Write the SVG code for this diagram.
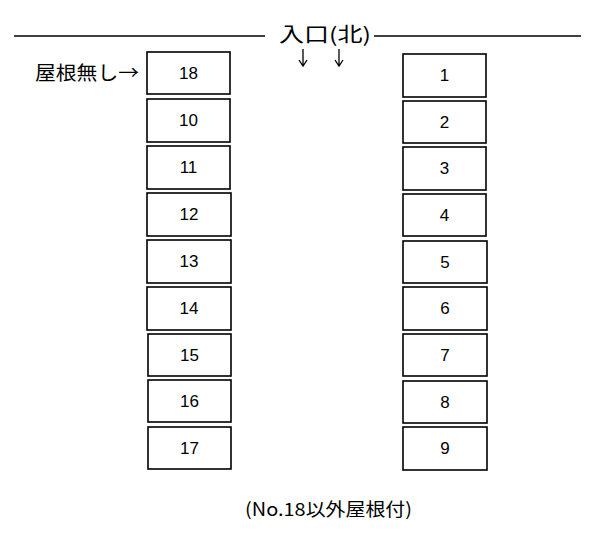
<svg xmlns="http://www.w3.org/2000/svg" width="593" height="541" viewBox="0 0 593 541">
<style>
.box{fill:#fff;stroke:#000;stroke-width:1.6}
.num{font-family:"Liberation Sans",Arial,sans-serif;font-size:17px;text-anchor:middle;fill:#000}
.jp{font-family:"Noto Sans CJK JP","Liberation Sans",sans-serif;fill:#000}
.ln{stroke:#000;stroke-width:1.6}
.arr{stroke:#000;stroke-width:1.3;fill:none}
</style>
<rect width="593" height="541" fill="#fff"/>
<g id="connectors">
<line class="ln" x1="14" y1="36" x2="265" y2="36"/>
<line class="ln" x1="374" y1="36" x2="581" y2="36"/>
<path class="arr" d="M303 49V66M299 60L303 66L307 60"/>
<path class="arr" d="M339 49V66M335 60L339 66L343 60"/>
</g>
<text class="jp" x="279" y="42" font-size="20" textLength="92" lengthAdjust="spacingAndGlyphs">入口(北)</text>
<text class="jp" x="35" y="80" font-size="19" textLength="104" lengthAdjust="spacingAndGlyphs">屋根無し→</text>
<g id="n18"><rect class="box" x="147" y="52" width="83" height="42"/><text class="num" x="188.5" y="79">18</text></g>
<g id="n10"><rect class="box" x="147" y="99" width="83" height="43"/><text class="num" x="188.5" y="126">10</text></g>
<g id="n11"><rect class="box" x="147" y="146" width="83" height="43"/><text class="num" x="188.5" y="173">11</text></g>
<g id="n12"><rect class="box" x="147" y="193" width="84" height="43"/><text class="num" x="189" y="220">12</text></g>
<g id="n13"><rect class="box" x="147" y="240" width="84" height="43"/><text class="num" x="189" y="267">13</text></g>
<g id="n14"><rect class="box" x="147" y="287" width="84" height="43"/><text class="num" x="189" y="314">14</text></g>
<g id="n15"><rect class="box" x="148" y="334" width="83" height="42"/><text class="num" x="189.5" y="361">15</text></g>
<g id="n16"><rect class="box" x="148" y="380" width="83" height="42"/><text class="num" x="189.5" y="407">16</text></g>
<g id="n17"><rect class="box" x="148" y="427" width="83" height="42"/><text class="num" x="189.5" y="454">17</text></g>
<g id="n1"><rect class="box" x="403" y="54" width="83" height="43"/><text class="num" x="444.5" y="81">1</text></g>
<g id="n2"><rect class="box" x="403" y="101" width="83" height="42"/><text class="num" x="444.5" y="128">2</text></g>
<g id="n3"><rect class="box" x="403" y="147" width="83" height="43"/><text class="num" x="444.5" y="174">3</text></g>
<g id="n4"><rect class="box" x="403" y="194" width="83" height="42"/><text class="num" x="444.5" y="221">4</text></g>
<g id="n5"><rect class="box" x="403" y="241" width="84" height="42"/><text class="num" x="445" y="268">5</text></g>
<g id="n6"><rect class="box" x="403" y="287" width="84" height="43"/><text class="num" x="445" y="314">6</text></g>
<g id="n7"><rect class="box" x="403" y="334" width="84" height="42"/><text class="num" x="445" y="361">7</text></g>
<g id="n8"><rect class="box" x="403" y="381" width="84" height="42"/><text class="num" x="445" y="408">8</text></g>
<g id="n9"><rect class="box" x="403" y="427" width="84" height="43"/><text class="num" x="445" y="454">9</text></g>
<text class="jp" x="245" y="516" font-size="18" textLength="167" lengthAdjust="spacingAndGlyphs">(No.18以外屋根付)</text>
</svg>
